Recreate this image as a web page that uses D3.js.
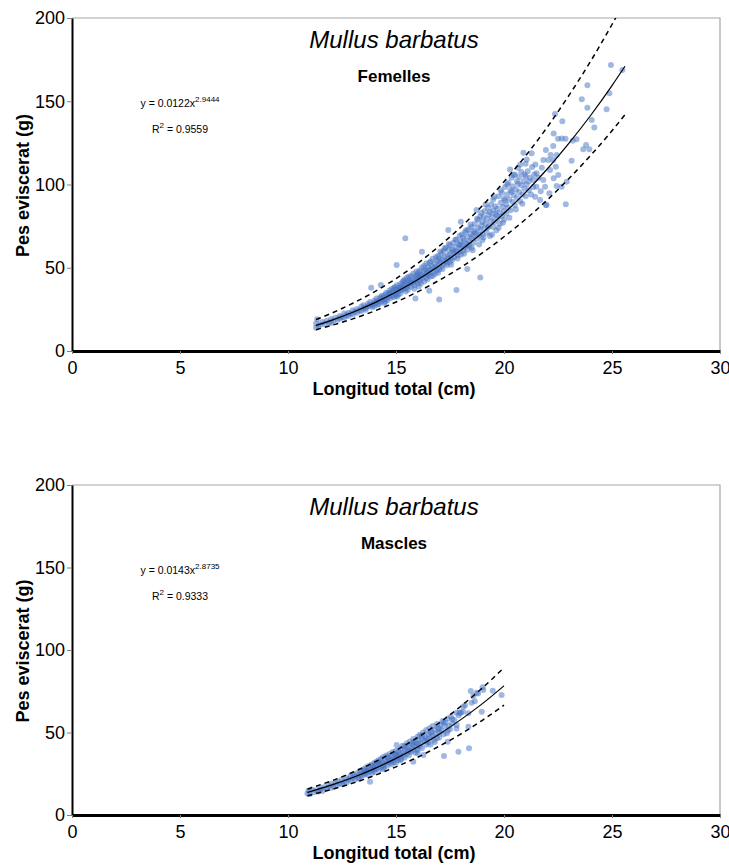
<!DOCTYPE html>
<html>
<head>
<meta charset="utf-8">
<script src="https://cdn.jsdelivr.net/npm/d3@7"></script>
<style>
  html, body { margin: 0; padding: 0; background: #fff; }
  svg { display: block; font-family: "Liberation Sans", Arial, sans-serif; }
</style>
</head>
<body>
<svg id="chart" width="729" height="867"></svg>
<script>
// Axis ticks shared by both panels.
const xTicks = [0, 5, 10, 15, 20, 25, 30];
const yTicks = [0, 50, 100, 150, 200];

const femPoints = [
  [11.3,14.0],[11.3,16.5],[11.35,19.0],[11.4,15.0],[11.5,15.8],[11.6,17.4],[11.7,16.2],[11.8,18.1],[11.9,17.0],[12.0,19.2],[12.0,16.9],
  [12.1,18.0],[12.2,19.9],[12.3,18.7],[12.4,21.0],[12.4,19.5],[12.5,20.2],[12.6,22.5],[12.6,20.0],[12.7,21.4],[12.8,23.0],[12.8,21.0],[12.9,22.3],[13.0,24.5],[13.0,22.0],
  [13.1,23.5],[13.2,25.2],[13.2,23.0],[13.3,24.4],[13.4,26.8],[13.4,24.0],[13.5,25.6],[13.5,27.5],[13.6,26.0],[13.6,24.8],[13.7,28.3],[13.7,26.7],[13.8,27.4],[13.8,29.5],[13.85,38.0],[13.9,28.0],[13.9,26.3],[14.0,30.2],[14.0,28.5],[14.0,27.0],[14.1,29.4],[14.1,31.6],
  [14.2,30.0],[14.2,28.2],[14.3,39.6],[14.3,31.5],[14.3,29.6],[14.35,33.2],[14.4,30.8],[14.4,32.6],[14.45,28.9],[14.5,33.8],[14.5,31.2],[14.55,35.0],[14.6,32.3],[14.6,30.5],[14.65,34.2],[14.7,33.0],[14.7,36.3],[14.75,31.8],[14.8,34.9],[14.8,37.2],[14.85,33.2],[14.9,35.8],[14.9,32.5],[14.95,38.4],[15.0,35.0],[15.0,33.4],[15.0,37.0],[15.03,51.6],[15.05,39.5],[15.1,36.2],[15.1,34.0],[15.15,37.8],
  [14.15,27.8],[14.25,32.2],[14.5,29.6],[14.7,34.8],[14.9,37.8],[15.05,32.8],[15.2,38.0],[15.35,42.0],[15.45,35.8],[15.6,44.6],[15.7,41.6],[15.85,37.4],[15.95,45.0],
  [15.2,36.5],[15.2,40.2],[15.2,34.6],[15.25,38.4],[15.3,41.5],[15.3,36.9],[15.35,39.3],[15.4,37.5],[15.43,67.7],[15.4,42.8],[15.45,40.0],[15.5,38.2],[15.5,41.2],[15.5,44.0],[15.55,36.8],[15.6,39.8],[15.6,42.3],[15.65,40.8],[15.7,45.1],[15.7,38.6],[15.75,43.0],[15.8,41.0],[15.8,46.5],[15.85,39.7],[15.9,31.6],[15.9,44.2],[15.9,42.0],[15.95,47.8],[16.0,43.3],[16.0,40.5],[16.0,45.6],[16.05,38.8],
  [16.1,44.6],[16.1,42.0],[16.1,48.4],[16.15,46.0],[16.2,59.6],[16.2,43.5],[16.2,50.1],[16.25,45.2],[16.3,47.6],[16.3,41.8],[16.35,49.0],[16.4,46.3],[16.4,44.0],[16.4,52.5],[16.45,48.0],[16.5,45.5],[16.5,50.2],[16.54,36.2],[16.55,47.2],[16.6,53.8],[16.6,49.0],[16.6,44.8],[16.65,51.0],[16.7,47.5],[16.7,55.4],[16.75,49.8],[16.8,52.6],[16.8,46.2],[16.85,50.5],[16.9,54.0],[16.9,48.3],[16.95,57.0],[17.0,31.0],[17.0,52.0],[17.0,49.0],[17.0,55.5],
  [16.05,47.2],[16.15,40.6],[16.3,51.0],[16.45,43.0],[16.55,53.0],[16.7,45.0],[16.85,56.5],[16.95,47.0],[17.05,59.8],[17.15,49.2],[17.25,61.5],[17.35,53.0],[17.45,64.2],[17.55,51.8],[17.65,59.8],[17.75,66.8],[17.85,55.5],[17.95,64.0],
  [17.05,53.4],[17.1,58.5],[17.1,50.6],[17.15,55.0],[17.2,52.2],[17.2,60.0],[17.25,56.6],[17.3,54.0],[17.3,62.0],[17.35,51.5],[17.4,57.5],[17.42,72.7],[17.4,55.2],[17.45,60.8],[17.5,53.5],[17.5,58.0],[17.5,63.5],[17.55,56.0],[17.6,61.0],[17.6,54.6],[17.65,65.0],[17.7,59.0],[17.7,56.3],[17.75,62.5],[17.8,36.6],[17.8,60.2],[17.8,67.0],[17.85,57.5],[17.9,63.8],[17.9,59.5],[17.95,69.2],[18.0,77.7],[18.0,61.5],[18.0,57.8],[18.0,65.5],
  [18.05,63.0],[18.1,68.0],[18.1,60.0],[18.15,66.2],[18.2,62.5],[18.2,71.5],[18.25,64.8],[18.3,49.2],[18.3,68.6],[18.3,60.8],[18.35,73.0],[18.4,66.0],[18.4,63.2],[18.45,70.2],[18.5,67.5],[18.5,74.5],[18.5,62.0],[18.55,69.0],[18.6,72.0],[18.6,65.0],[18.65,76.5],[18.7,70.5],[18.73,84.7],[18.75,67.5],[18.8,74.0],[18.8,78.8],[18.85,69.6],[18.9,44.2],[18.9,72.8],[18.9,81.0],[18.95,75.5],[19.0,70.0],[19.0,77.5],[19.0,66.5],
  [18.05,70.0],[18.15,58.5],[18.25,72.5],[18.35,63.8],[18.45,76.0],[18.55,60.5],[18.65,71.2],[18.75,79.5],[18.85,64.0],[18.95,83.0],[19.05,68.2],[19.15,88.0],[19.25,74.2],[19.35,83.5],[19.45,70.0],[19.55,92.5],[19.65,81.5],[19.75,74.0],[19.85,96.5],[19.95,77.0],
  [19.05,80.5],[19.1,73.5],[19.1,84.0],[19.15,76.6],[19.2,71.0],[19.2,79.5],[19.25,86.0],[19.3,75.0],[19.3,82.0],[19.35,69.0],[19.4,78.0],[19.4,88.0],[19.45,80.5],[19.5,74.5],[19.5,84.5],[19.5,91.0],[19.55,77.5],[19.6,82.5],[19.6,87.0],[19.65,72.5],[19.7,85.5],[19.7,79.5],[19.75,93.0],[19.8,83.0],[19.8,76.5],[19.85,89.0],[19.9,81.0],[19.9,95.0],[19.95,86.5],[20.0,79.0],[20.0,91.5],[20.0,84.0],
  [20.05,98.5],[20.1,88.0],[20.1,82.5],[20.15,94.0],[20.2,86.0],[20.2,101.0],[20.28,109.0],[20.25,91.0],[20.3,96.5],[20.3,84.5],[20.35,104.0],[20.4,89.5],[20.4,99.0],[20.45,93.5],[20.5,106.0],[20.5,87.5],[20.55,97.0],[20.6,102.0],[20.6,92.0],[20.65,110.0],[20.7,95.5],[20.7,104.5],[20.75,90.0],[20.8,99.5],[20.8,107.5],[20.85,94.0],[20.9,119.1],[20.9,102.0],[20.95,97.5],[21.0,105.0],[21.0,93.0],[21.0,112.5],
  [20.05,90.5],[20.15,100.0],[20.25,80.0],[20.35,95.5],[20.45,105.5],[20.55,85.0],[20.65,100.5],[20.75,112.0],[20.85,88.5],[20.95,106.0],[21.05,115.0],
  [21.05,100.0],[21.1,108.0],[21.15,96.5],[21.2,104.0],[21.28,118.7],[21.3,110.5],[21.35,98.5],[21.36,102.7],[21.4,106.0],[21.44,92.7],[21.5,98.7],[21.51,106.7],[21.67,90.7],[21.82,102.7],[21.82,114.7],[21.9,98.7],[21.94,120.7],[21.94,87.7],[21.97,87.7],
  [21.15,102.0],[21.25,94.0],[21.45,112.0],[21.6,104.0],[21.7,96.0],[21.75,110.0],
  [22.05,114.7],[22.1,94.7],[22.13,108.7],[22.16,117.7],[22.28,123.1],[22.28,114.7],[22.3,130.7],[22.3,103.7],[22.36,142.3],[22.4,110.7],[22.44,117.7],[22.44,99.1],[22.5,127.5],[22.51,105.7],[22.67,98.7],[22.67,127.7],[22.7,138.0],[22.85,127.5],[22.86,88.1],[22.9,101.7],
  [23.13,114.3],[23.18,126.3],[23.36,127.2],[23.6,151.2],[23.67,121.1],[23.8,123.7],[23.86,159.6],[23.86,146.1],[23.95,121.1],[24.06,138.7],[24.18,134.3],[24.75,145.2],[24.88,154.8],[24.95,171.8],[25.48,168.8]
];

// Females: fitted curve y = 0.0122x^2.9444 and dashed band, read at whole cm.
const femFitX   = [11.3, 12, 13, 14, 15, 16, 17, 18, 19, 20, 21, 22, 23, 24, 25, 25.6];
const femFitY   = [15.4, 18.4, 23.3, 28.9, 35.4, 42.8, 51.2, 60.5, 71.0, 82.7, 95.3, 109.3, 124.7, 141.3, 159.4, 171.0];
const femUpperY = [18.9, 22.6, 28.7, 35.5, 43.5, 52.6, 63.0, 74.4, 87.3, 101.7, 117.2, 134.4, 153.4, 173.8, 196.1, 210.3];
const femLowerY = [12.8, 15.3, 19.3, 24.0, 29.4, 35.5, 42.5, 50.2, 58.9, 68.6, 79.1, 90.7, 103.5, 117.3, 132.3, 141.9];

// Males: observed points.
const malPoints = [
  [10.9,13.0],[10.95,14.8],[11.0,12.6],[11.1,15.5],[11.2,13.8],[11.3,15.0],[11.4,14.3],[11.5,16.6],[11.5,15.2],[11.6,14.6],[11.7,17.0],[11.8,16.0],[11.9,17.8],[12.0,16.5],[12.0,19.0],
  [12.1,17.5],[12.2,19.5],[12.25,18.0],[12.3,20.5],[12.4,19.0],[12.5,21.3],[12.5,18.8],[12.6,20.2],[12.7,22.4],[12.7,19.6],[12.8,21.5],[12.9,23.6],[12.9,20.8],[13.0,22.5],[13.0,24.5],
  [13.1,21.7],[13.1,23.8],[13.2,25.5],[13.25,22.6],[13.3,24.5],[13.35,26.8],[13.4,23.5],[13.45,25.6],[13.5,27.8],[13.5,24.2],[13.55,26.2],[13.6,25.0],[13.6,28.5],[13.65,27.0],[13.7,24.6],[13.7,29.6],[13.75,26.4],[13.8,20.2],[13.8,28.0],[13.85,30.5],[13.9,27.2],[13.9,25.6],[13.95,29.0],[14.0,31.5],[14.0,27.6],[14.0,26.0],
  [13.3,22.0],[13.6,26.5],[13.9,29.8],[14.2,31.8],[14.4,27.8],[14.6,35.0],[14.8,33.0],[15.0,36.8],[15.2,33.2],[15.4,41.8],[15.6,38.6],[15.8,44.0],[16.0,37.6],[16.2,48.0],[16.4,45.0],[16.6,50.0],[16.8,44.2],[17.0,52.4],[17.2,56.0],[17.4,51.0],[17.6,58.0],[17.8,62.0],
  [14.05,29.8],[14.1,32.4],[14.1,28.2],[14.15,30.6],[14.2,27.4],[14.2,33.2],[14.25,31.0],[14.3,29.0],[14.3,34.0],[14.35,32.0],[14.4,30.0],[14.4,35.2],[14.45,28.6],[14.5,33.0],[14.5,31.2],[14.55,36.0],[14.6,32.5],[14.6,29.8],[14.65,34.4],[14.7,31.6],[14.7,37.0],[14.75,33.6],[14.8,35.8],[14.8,30.8],[14.85,38.2],[14.9,34.2],[14.9,32.0],[14.95,36.6],[15.0,34.8],[15.0,31.8],[15.03,42.4],[15.0,39.0],
  [15.05,36.0],[15.1,33.4],[15.1,38.4],[15.15,35.2],[15.2,40.2],[15.2,36.8],[15.25,34.0],[15.3,38.0],[15.3,42.0],[15.35,36.0],[15.4,39.4],[15.4,34.8],[15.45,41.0],[15.5,37.2],[15.5,43.5],[15.55,39.0],[15.6,36.2],[15.6,41.6],[15.65,44.6],[15.7,38.4],[15.7,40.6],[15.75,43.0],[15.8,32.3],[15.8,39.6],[15.8,46.0],[15.85,42.2],[15.9,37.8],[15.9,44.2],[15.95,41.0],[16.0,47.5],[16.0,39.5],[16.0,43.2],
  [16.05,45.0],[16.1,41.6],[16.1,48.6],[16.15,43.6],[16.2,46.6],[16.2,40.4],[16.27,36.4],[16.25,50.0],[16.3,44.8],[16.35,47.6],[16.4,42.6],[16.4,51.5],[16.45,46.0],[16.5,49.0],[16.5,44.0],[16.55,52.6],[16.6,47.0],[16.6,42.8],[16.65,50.5],[16.7,48.0],[16.7,54.0],[16.75,45.6],[16.8,51.8],[16.85,49.2],[16.9,55.2],[16.9,46.6],[16.95,52.5],[17.0,50.0],[17.0,47.0],
  [17.05,54.5],[17.1,51.2],[17.15,57.0],[17.22,35.8],[17.2,49.0],[17.25,53.6],[17.3,56.0],[17.35,49.5],[17.39,44.4],[17.4,58.5],[17.45,54.0],[17.5,52.0],[17.55,59.5],[17.6,55.5],[17.7,57.6],[17.8,52.5],[17.81,54.5],[17.89,38.4],[17.9,60.5],[17.95,62.0],[18.0,62.0],
  [18.1,62.6],[18.12,65.6],[18.2,66.5],[18.35,61.6],[18.35,53.5],[18.38,40.4],[18.46,75.2],[18.5,68.0],[18.58,72.1],[18.65,69.0],[18.73,74.1],[18.8,73.7],[18.97,62.6],[19.01,77.4],[19.04,75.8],[19.48,75.3],[19.89,72.7]
];

// Males: fitted curve y = 0.0143x^2.8735 and dashed band.
const malFitX   = [10.9, 11, 12, 13, 14, 15, 16, 17, 18, 19, 20];
const malFitY   = [13.7, 14.1, 18.1, 22.7, 28.1, 34.3, 41.2, 49.0, 57.8, 67.5, 78.3];
const malUpperY = [15.6, 16.1, 20.6, 25.9, 32.0, 39.1, 47.0, 55.9, 65.9, 77.0, 89.3];
const malLowerY = [11.6, 12.0, 15.4, 19.3, 23.9, 29.2, 35.0, 41.7, 49.1, 57.4, 66.6];

const panels = [
  {
    id: 'fem', top: 18, bottom: 351, sex: 'Femelles',
    a: '0.0122', b: '2.9444', r2: '0.9559',
    points: femPoints, fitX: femFitX, fitY: femFitY, upper: femUpperY, lower: femLowerY,
  },
  {
    id: 'mal', top: 485, bottom: 815, sex: 'Mascles',
    a: '0.0143', b: '2.8735', r2: '0.9333',
    points: malPoints, fitX: malFitX, fitY: malFitY, upper: malUpperY, lower: malLowerY,
  },
];

const svg = d3.select('#chart');
const left = 72;
const right = 720;

function drawPanel(p) {
  const x = d3.scaleLinear().domain([0, 30]).range([left, right]);
  const y = d3.scaleLinear().domain([0, 200]).range([p.bottom, p.top]);
  const g = svg.append('g');

  // Light frame on top and right.
  g.append('path')
      .attr('d', `M${left},${p.top}H${right}V${p.bottom}`)
      .attr('fill', 'none')
      .attr('stroke', '#a6a6a6')
      .attr('stroke-width', 1.2);

  g.append('clipPath').attr('id', 'clip-' + p.id)
    .append('rect')
      .attr('x', left).attr('y', p.top)
      .attr('width', right - left).attr('height', p.bottom - p.top);

  const plot = g.append('g').attr('clip-path', `url(#clip-${p.id})`);

  plot.selectAll('circle')
      .data(p.points)
      .join('circle')
      .attr('cx', (d) => x(d[0]))
      .attr('cy', (d) => y(d[1]))
      .attr('r', 3)
      .attr('fill', '#4472c4')
      .attr('fill-opacity', 0.5);

  const line = (ys) => d3.line()
      .x((d, i) => x(p.fitX[i]))
      .y((d) => y(d))
      .curve(d3.curveMonotoneX)(ys);

  [p.upper, p.lower].forEach((band) => {
    plot.append('path')
        .attr('d', line(band))
        .attr('fill', 'none')
        .attr('stroke', '#000')
        .attr('stroke-width', 1.5)
        .attr('stroke-dasharray', '5,4');
  });

  plot.append('path')
      .attr('d', line(p.fitY))
      .attr('fill', 'none')
      .attr('stroke', '#000')
      .attr('stroke-width', 1.2);

  // Axes.
  const yAxis = g.append('g')
      .attr('transform', `translate(${left},0)`)
      .call(d3.axisLeft(y).tickValues(yTicks).tickSize(5).tickSizeOuter(0).tickPadding(2));
  yAxis.select('.domain').attr('stroke', '#000').attr('stroke-width', 2);

  const xAxis = g.append('g')
      .attr('transform', `translate(0,${p.bottom})`)
      .call(d3.axisBottom(x).tickValues(xTicks).tickSize(3).tickSizeOuter(0).tickPadding(7));
  xAxis.select('.domain').attr('stroke', '#000').attr('stroke-width', 3);

  [yAxis, xAxis].forEach((ax) => {
    ax.selectAll('.tick line').attr('stroke', '#7f7f7f');
    ax.selectAll('.tick text')
        .attr('fill', '#000')
        .style('font-family', '"Liberation Sans", Arial, sans-serif')
        .style('font-size', '18px');
  });

  // Axis titles.
  g.append('text')
      .attr('transform', `translate(29,${(p.top + p.bottom) / 2 + 1}) rotate(-90)`)
      .attr('text-anchor', 'middle')
      .style('font-size', '18px')
      .style('font-weight', 'bold')
      .text('Pes eviscerat (g)');

  g.append('text')
      .attr('x', 394)
      .attr('y', p.bottom + 44)
      .attr('text-anchor', 'middle')
      .style('font-size', '18px')
      .style('font-weight', 'bold')
      .text('Longitud total (cm)');

  // Species and sex.
  g.append('text')
      .attr('x', 394)
      .attr('y', p.top + 30)
      .attr('text-anchor', 'middle')
      .style('font-size', '24px')
      .style('font-style', 'italic')
      .text('Mullus barbatus');

  g.append('text')
      .attr('x', 394)
      .attr('y', p.top + 64)
      .attr('text-anchor', 'middle')
      .style('font-size', '17px')
      .style('font-weight', 'bold')
      .text(p.sex);

  // Fit equation and R squared.
  const eq = g.append('text')
      .attr('x', 180)
      .attr('y', p.top + 89)
      .attr('text-anchor', 'middle')
      .style('font-size', '10.5px');
  eq.append('tspan').text(`y = ${p.a}x`);
  eq.append('tspan').attr('dy', -5).style('font-size', '8px').text(p.b);

  const r2 = g.append('text')
      .attr('x', 180)
      .attr('y', p.top + 115)
      .attr('text-anchor', 'middle')
      .style('font-size', '10.5px');
  r2.append('tspan').text('R');
  r2.append('tspan').attr('dy', -5).style('font-size', '8px').text('2');
  r2.append('tspan').attr('dy', 5).text(` = ${p.r2}`);
}

panels.forEach(drawPanel);
</script>
</body>
</html>
